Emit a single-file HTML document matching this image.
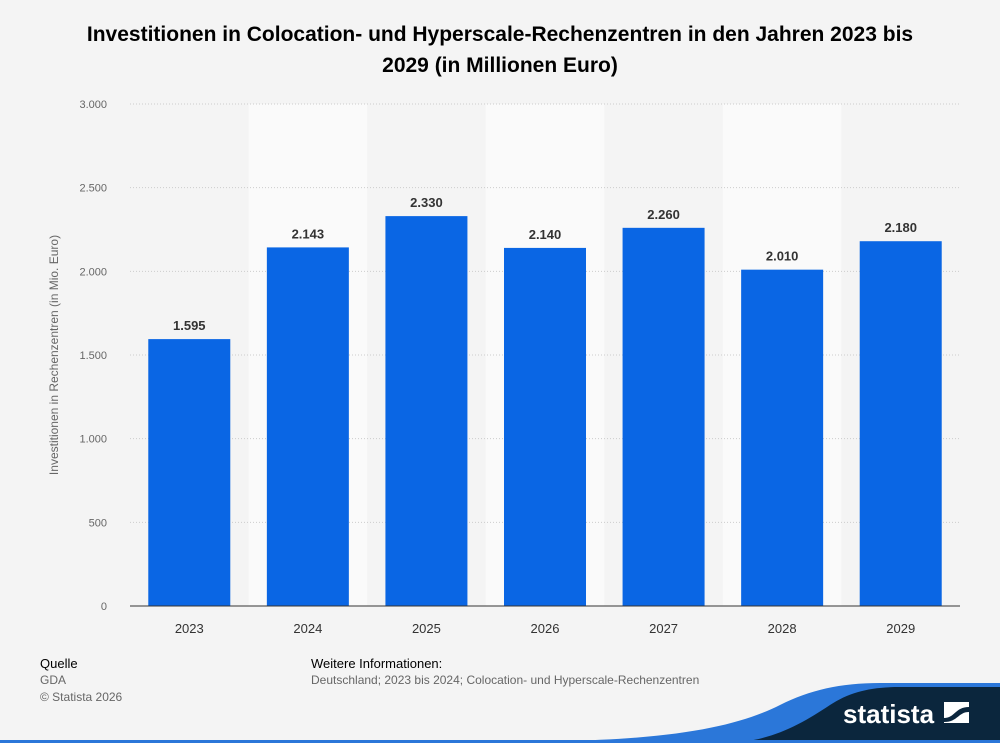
<!DOCTYPE html>
<html><head><meta charset="utf-8"><style>
body{margin:0;width:1000px;height:743px;background:#f4f4f4;font-family:"Liberation Sans",sans-serif;overflow:hidden;position:relative}
.t{position:absolute;left:0;width:1000px;top:19px;text-align:center;font-weight:bold;font-size:21px;line-height:31px;color:#000}
.f{position:absolute;font-size:12px;color:#666}
</style></head><body>
<div class="t">Investitionen in Colocation- und Hyperscale-Rechenzentren in den Jahren 2023 bis<br>2029 (in Millionen Euro)</div>
<svg id="c" width="1000" height="743" style="position:absolute;left:0;top:0"></svg>
<div class="f" style="left:40px;top:656px;color:#000;font-size:13px">Quelle</div>
<div class="f" style="left:40px;top:673px">GDA</div>
<div class="f" style="left:40px;top:690px">© Statista 2026</div>
<div class="f" style="left:311px;top:656px;color:#000;font-size:13px">Weitere Informationen:</div>
<div class="f" style="left:311px;top:673px">Deutschland; 2023 bis 2024; Colocation- und Hyperscale-Rechenzentren</div>
<svg width="1000" height="743" style="position:absolute;left:0;top:0">
<path d="M560,741 C680,739 740,725 780,705 C810,690 840,683 880,683 L1000,683 L1000,743 L560,743Z" fill="#2b77d9"/>
<path d="M725,743 C770,742 800,725 830,705 C850,692 870,687 900,687 L1000,687 L1000,743Z" fill="#0b263d"/>
<rect x="0" y="740" width="1000" height="3" fill="#2b77d9"/>
<text x="843" y="723" fill="#fff" font-size="26" font-weight="bold" font-family="Liberation Sans,sans-serif">statista</text>
<rect x="944" y="702" width="25" height="21" fill="#fff"/>
<path d="M944,718 C955,718 955,707 969,707 L969,712 C958,712 958,722 944,722Z" fill="#0b263d"/>
</svg>
<script>
const categories=["2023","2024","2025","2026","2027","2028","2029"];
const values=[1595,2143,2330,2140,2260,2010,2180];
const labels=["1.595","2.143","2.330","2.140","2.260","2.010","2.180"];
const ticks=[0,500,1000,1500,2000,2500,3000];
const tickLabels=["0","500","1.000","1.500","2.000","2.500","3.000"];
const svg=document.getElementById('c');const NS='http://www.w3.org/2000/svg';
const x0=130,x1=960,y0=606,yT=104,max=3000;
const step=(x1-x0)/categories.length;
const y=v=>y0-(v/max)*(y0-yT);const cx=i=>x0+step*(i+0.5);
function mk(t,a,txt){const e=document.createElementNS(NS,t);for(const k in a)e.setAttribute(k,a[k]);if(txt!==undefined)e.textContent=txt;svg.appendChild(e);return e;}
categories.forEach((c,i)=>{if(i%2==1){const b=mk('rect',{x:x0+step*i,y:yT,width:step,height:y0-yT,fill:'#fafafa'});

}});
ticks.forEach((t,i)=>{const l=mk('line',{x1:x0,x2:x1,y1:y(t),y2:y(t),stroke:'#ccc','stroke-dasharray':'1,2'});


const tx=mk('text',{x:107,y:y(t)+4,'text-anchor':'end','font-size':11,fill:'#666'},tickLabels[i]);

});
categories.forEach((c,i)=>{const w=82;
const r=mk('rect',{x:cx(i)-w/2,y:y(values[i]),width:w,height:y0-y(values[i]),fill:'#0a66e4'});


const v=mk('text',{x:cx(i),y:y(values[i])-9,'text-anchor':'middle','font-size':13,'font-weight':'bold',fill:'#333'},labels[i]);


const xl=mk('text',{x:cx(i),y:y0+27,'text-anchor':'middle','font-size':13,fill:'#333'},c);

});
const ax=mk('line',{x1:x0,x2:x1,y1:y0,y2:y0,stroke:'#333','stroke-width':1});


const yt=mk('text',{x:58,y:355,'text-anchor':'middle','font-size':12,fill:'#666',transform:'rotate(-90 58 355)'},'Investitionen in Rechenzentren (in Mio. Euro)');


</script>
</body></html>
